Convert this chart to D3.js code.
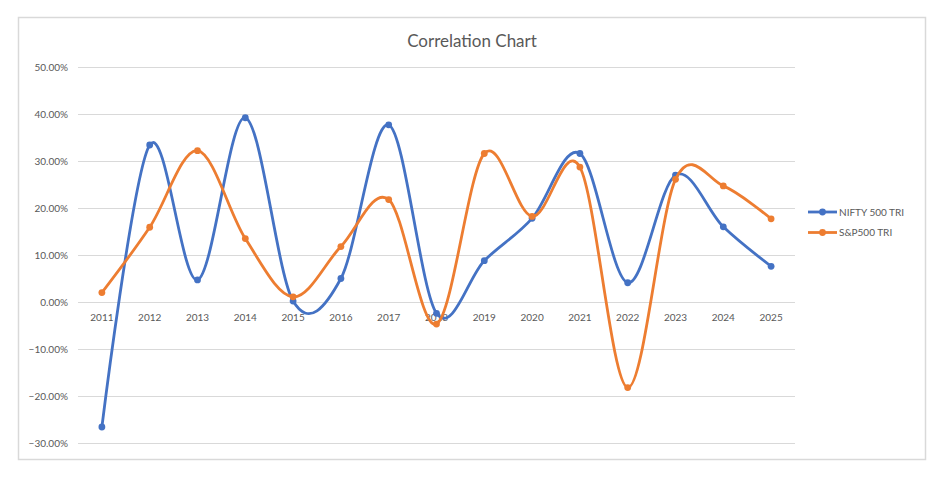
<!DOCTYPE html>
<html><head><meta charset="utf-8">
<script src="https://cdn.jsdelivr.net/npm/d3@7"></script>
<style>body{margin:0;background:#fff;}svg{display:block;}</style>
</head><body>
<script>
const categories = ["2011","2012","2013","2014","2015","2016","2017","2018","2019","2020","2021","2022","2023","2024","2025"];
const niftyValues = [-26.6, 33.4, 4.7, 39.2, 0.2, 5.0, 37.7, -2.4, 8.8, 17.8, 31.6, 4.1, 27.0, 16.0, 7.6];
const spValues = [2.0, 15.9, 32.2, 13.5, 1.1, 11.8, 21.8, -4.7, 31.6, 18.2, 28.7, -18.2, 26.1, 24.7, 17.7];
const seriesNames = ["NIFTY 500 TRI", "S&P500 TRI"];
const seriesColors = ["#4472C4", "#ED7D31"];
const yTicks = [-30, -20, -10, 0, 10, 20, 30, 40, 50];

const W = 943, H = 477;
const svg = d3.select("body").append("svg").attr("width", W).attr("height", H);
const font = "Lato, 'Open Sans', sans-serif";

svg.append("rect").attr("x", 18.5).attr("y", 17.5).attr("width", 907).attr("height", 442)
  .attr("fill", "#fff").attr("stroke", "#d9d9d9").attr("stroke-width", 1.5);

svg.append("text").attr("x", 472).attr("y", 46.5).attr("text-anchor", "middle")
  .attr("font-family", font).attr("font-size", 17).attr("fill", "#595959").text("Correlation Chart");

const x = d3.scaleBand().domain(categories).range([78, 795]);
const y = d3.scaleLinear().domain([-30, 50]).range([443, 67]);

// gridlines
svg.append("g").selectAll("line").data(yTicks).join("line")
  .attr("x1", 78).attr("x2", 795)
  .attr("y1", d => Math.round(y(d)) + 0.5).attr("y2", d => Math.round(y(d)) + 0.5)
  .attr("stroke", "#d9d9d9").attr("stroke-width", 1);

// y axis labels
const yAxis = d3.axisLeft(y).tickValues(yTicks).tickSize(0).tickPadding(0)
  .tickFormat(d => d3.format(".2f")(d) + "%");
const gy = svg.append("g").attr("transform", "translate(68,0)").call(yAxis);
gy.select(".domain").remove();
gy.selectAll("text").attr("font-family", font).attr("font-size", 10).attr("fill", "#595959");

// x axis labels at zero line
const xAxis = d3.axisBottom(x).tickSize(0).tickPadding(0);
const gx = svg.append("g").attr("transform", `translate(0,${y(0) + 12})`).call(xAxis);
gx.select(".domain").remove();
gx.selectAll("text").attr("font-family", font).attr("font-size", 10).attr("fill", "#595959");

const cx = c => x(c) + x.bandwidth() / 2;
const line = d3.line().x((d, i) => cx(categories[i])).y(d => y(d)).curve(d3.curveCardinal.tension(0));

[niftyValues, spValues].forEach((vals, si) => {
  const g = svg.append("g");
  g.append("path").datum(vals).attr("d", line).attr("fill", "none")
    .attr("stroke", seriesColors[si]).attr("stroke-width", 2.8).attr("stroke-linecap", "round");
  g.selectAll("circle").data(vals).join("circle")
    .attr("cx", (d, i) => cx(categories[i])).attr("cy", d => y(d)).attr("r", 3.4)
    .attr("fill", seriesColors[si]);
});

// legend
const leg = svg.append("g");
seriesNames.forEach((name, i) => {
  const ly = 212 + i * 20.5;
  leg.append("line").attr("x1", 808).attr("x2", 837).attr("y1", ly).attr("y2", ly)
    .attr("stroke", seriesColors[i]).attr("stroke-width", 2.8);
  leg.append("circle").attr("cx", 822.5).attr("cy", ly).attr("r", 3.4).attr("fill", seriesColors[i]);
  leg.append("text").attr("x", 839).attr("y", ly + 3.5).attr("font-family", font)
    .attr("font-size", 10).attr("fill", "#595959").text(name);
});
</script>
</body></html>
